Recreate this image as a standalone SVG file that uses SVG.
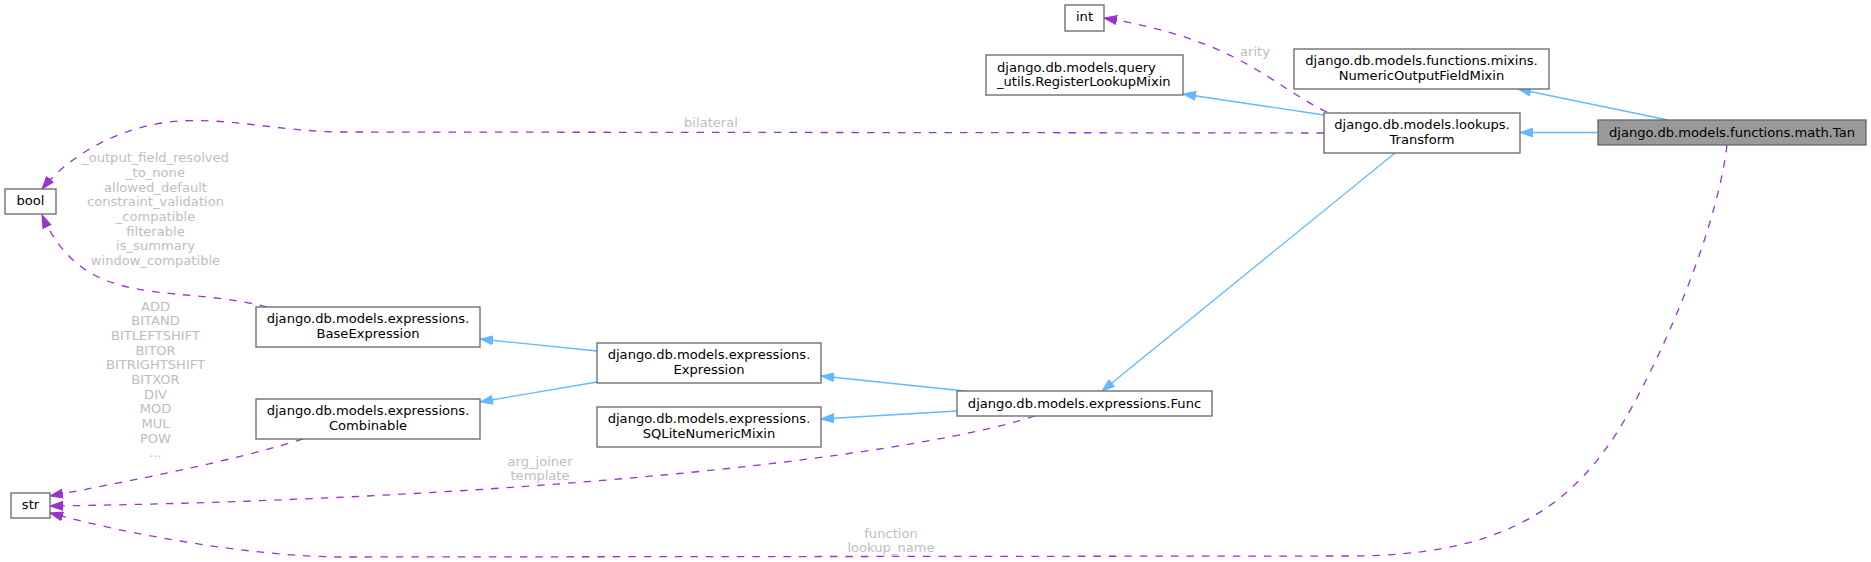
<svg xmlns="http://www.w3.org/2000/svg" width="1871" height="562" viewBox="0 0 1871 562">
<style>
.node rect{fill:#ffffff;stroke:#666666;stroke-width:1.3}
.node text{font-family:"DejaVu Sans",sans-serif;font-size:13.1px;fill:#000000;text-anchor:middle}
.node.left text{text-anchor:start}
#tan rect{fill:#999999}
.inh{fill:none;stroke:#63b8ff;stroke-width:1.3;marker-end:url(#ab)}
.use{fill:none;stroke:#9a32cd;stroke-width:1.3;stroke-dasharray:7.5,8;marker-end:url(#ap)}
.lbl{font-family:"DejaVu Sans",sans-serif;font-size:13.1px;fill:#bebebe;text-anchor:middle}
</style>
<defs>
<marker id="ab" markerUnits="userSpaceOnUse" markerWidth="14" markerHeight="10" viewBox="0 -5 14 10" refX="13" refY="0" orient="auto"><path d="M0,-4.5 L13,0 L0,4.5 z" fill="#63b8ff" stroke="#63b8ff" stroke-width="1"/></marker>
<marker id="ap" markerUnits="userSpaceOnUse" markerWidth="14" markerHeight="10" viewBox="0 -5 14 10" refX="13" refY="0" orient="auto"><path d="M0,-4.5 L13,0 L0,4.5 z" fill="#9a32cd" stroke="#9a32cd" stroke-width="1"/></marker>
</defs>
<rect width="1871" height="562" fill="#ffffff"/>
<g id="edges">
<path class="inh" d="M1668,120 L1518,89"/>
<path class="inh" d="M1598,132.5 L1520,132.5"/>
<path class="inh" d="M1324,115 L1183,94"/>
<path class="inh" d="M1395,153 L1102,391"/>
<path class="inh" d="M965,391 L821,376"/>
<path class="inh" d="M957,411 L821,419"/>
<path class="inh" d="M597,351 L480,339"/>
<path class="inh" d="M597,382 L480,402"/>
<path class="use" d="M1324,133 L340,132 C280,131 230,118 180,121 C120,125 70,155 42,189"/>
<path class="use" d="M1327,112 C1270,85 1240,40 1104,18"/>
<path class="use" d="M267,307 C210,292 150,298 105,280 C75,268 55,245 42,215"/>
<path class="use" d="M303,439 C230,462 120,483 50,496"/>
<path class="use" d="M1035,416 C900,460 500,500 50,506"/>
<path class="use" d="M1727,145 C1715,245 1645,393 1610,443 C1564.5,508 1500,556 1350,556 L340,557 C250,556 130,535 50,513"/>
<text class="lbl" x="711" y="127">bilateral</text>
<text class="lbl" x="1255" y="56">arity</text>
<text class="lbl" x="155.5" y="162.3">_output_field_resolved</text>
<text class="lbl" x="155.5" y="177">_to_none</text>
<text class="lbl" x="155.5" y="191.6">allowed_default</text>
<text class="lbl" x="155.5" y="206.3">constraint_validation</text>
<text class="lbl" x="155.5" y="221">_compatible</text>
<text class="lbl" x="155.5" y="235.6">filterable</text>
<text class="lbl" x="155.5" y="250.3">is_summary</text>
<text class="lbl" x="155.5" y="265">window_compatible</text>
<text class="lbl" x="155.5" y="310.7">ADD</text>
<text class="lbl" x="155.5" y="325.4">BITAND</text>
<text class="lbl" x="155.5" y="340">BITLEFTSHIFT</text>
<text class="lbl" x="155.5" y="354.7">BITOR</text>
<text class="lbl" x="155.5" y="369.4">BITRIGHTSHIFT</text>
<text class="lbl" x="155.5" y="384">BITXOR</text>
<text class="lbl" x="155.5" y="398.7">DIV</text>
<text class="lbl" x="155.5" y="413.4">MOD</text>
<text class="lbl" x="155.5" y="428">MUL</text>
<text class="lbl" x="155.5" y="442.7">POW</text>
<text class="lbl" x="155.5" y="457.4">...</text>
<text class="lbl" x="540" y="465.5">arg_joiner</text>
<text class="lbl" x="540" y="480">template</text>
<text class="lbl" x="891" y="537.5">function</text>
<text class="lbl" x="891" y="552">lookup_name</text>
</g>
<g id="tan" class="node"><rect x="1598" y="120" width="268" height="25"/><text x="1732" y="136.5">django.db.models.functions.math.Tan</text></g>
<g id="numericoutputfieldmixin" class="node"><rect x="1294" y="49" width="255" height="40"/><text x="1421.5" y="65.3">django.db.models.functions.mixins.</text><text x="1421.5" y="79.5">NumericOutputFieldMixin</text></g>
<g id="transform" class="node"><rect x="1324" y="113" width="196" height="40"/><text x="1422" y="129.3">django.db.models.lookups.</text><text x="1422" y="143.5">Transform</text></g>
<g id="int" class="node"><rect x="1065" y="5" width="39" height="26"/><text x="1084.5" y="21">int</text></g>
<g id="registerlookupmixin" class="node left"><rect x="986" y="55" width="197" height="40"/><text x="997" y="71.5">django.db.models.query</text><text x="997" y="85.7">_utils.RegisterLookupMixin</text></g>
<g id="bool" class="node"><rect x="5" y="189" width="51" height="25"/><text x="30.5" y="205.3">bool</text></g>
<g id="str" class="node"><rect x="11" y="493" width="39" height="25"/><text x="30.5" y="509.3">str</text></g>
<g id="baseexpression" class="node"><rect x="256" y="307" width="224" height="40"/><text x="368" y="323.3">django.db.models.expressions.</text><text x="368" y="337.5">BaseExpression</text></g>
<g id="combinable" class="node"><rect x="256" y="399" width="224" height="40"/><text x="368" y="415.3">django.db.models.expressions.</text><text x="368" y="429.5">Combinable</text></g>
<g id="expression" class="node"><rect x="597" y="343" width="224" height="40"/><text x="709" y="359.3">django.db.models.expressions.</text><text x="709" y="373.5">Expression</text></g>
<g id="sqlitenumericmixin" class="node"><rect x="597" y="407" width="224" height="40"/><text x="709" y="423.3">django.db.models.expressions.</text><text x="709" y="437.5">SQLiteNumericMixin</text></g>
<g id="func" class="node"><rect x="957" y="391" width="255" height="25"/><text x="1084.5" y="407.5">django.db.models.expressions.Func</text></g>
</svg>
